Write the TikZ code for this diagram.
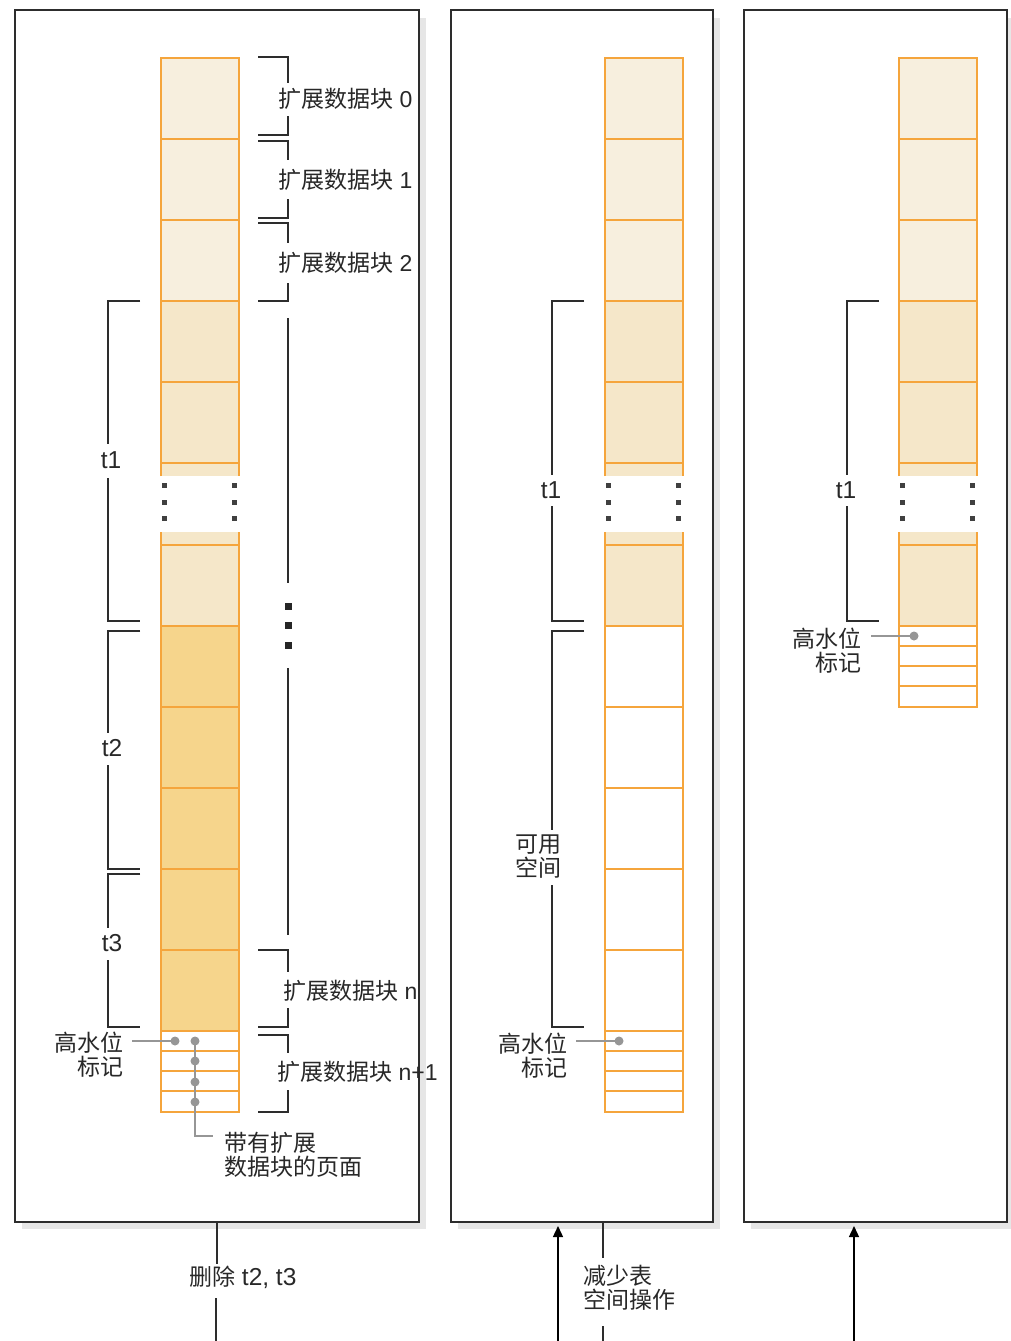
\documentclass[tikz,border=0pt]{standalone}
\usepackage{fontspec}
\setmainfont{Liberation Sans}
\newfontfamily\cjk{Noto Sans CJK SC}
\usetikzlibrary{arrows.meta}
\definecolor{orgc}{RGB}{245,165,60}
\definecolor{cA}{RGB}{247,239,222}
\definecolor{cB}{RGB}{245,231,201}
\definecolor{cC}{RGB}{246,213,140}
\definecolor{shc}{RGB}{230,230,230}
\definecolor{dgc}{RGB}{150,150,150}
\definecolor{lnc}{RGB}{45,45,45}
\definecolor{txc}{RGB}{40,40,40}
\begin{document}
\begin{tikzpicture}[x=1pt,y=-1pt,
  panel/.style={draw=lnc,line width=1.8pt,fill=white,inner sep=0pt,anchor=north west},
  org/.style={draw=orgc,line width=1.9pt},
  brk/.style={draw=lnc,line width=1.5pt},
  lbl/.style={font=\fontsize{23}{24}\selectfont,text=txc,inner sep=0pt},
  tl/.style={font=\fontsize{24.5}{26}\selectfont,text=txc,inner sep=0pt},
  gl/.style={draw=dgc,line width=1.2pt},
  gdot/.style={circle,fill=dgc,inner sep=0pt,minimum size=9pt},
  sq/.style={fill=black!75,inner sep=0pt,minimum size=5pt},
  bsq/.style={fill=black!85,inner sep=0pt,minimum size=7pt},
  arr/.style={draw=black,line width=1.4pt,-{Triangle[length=11pt,width=10pt]}},
]
\useasboundingbox (0,0) rectangle (1010,1341);
% shadows
\fill[shc] (22,18) rectangle (426,1229);
\fill[shc] (458,18) rectangle (720,1229);
\fill[shc] (751,18) rectangle (1014,1229);
% panels
\node[panel,minimum width=404pt,minimum height=1212pt] (p1) at (14,9) {};
\node[panel,minimum width=262pt,minimum height=1212pt] (p2) at (450,9) {};
\node[panel,minimum width=263pt,minimum height=1212pt] (p3) at (743,9) {};
% columns, common upper part
\foreach \xo in {161,605,899}{
  \fill[cA] (\xo,58) rectangle ++(78,243);
  \fill[cB] (\xo,301) rectangle ++(78,175);
  \fill[cB] (\xo,532) rectangle ++(78,94);
  \foreach \yy in {139,220,301,382,463,545}{\draw[org] (\xo,\yy) -- ++(78,0);}
  \draw[org] (\xo,476) |- ++(78,-418) -- ++(0,418);
  \foreach \yy in {485,502,518}{
    \node[sq] at ([xshift=3pt]\xo,\yy) {};
    \node[sq] at ([xshift=73pt]\xo,\yy) {};
  }
}
% column 1 lower
\fill[cC] (161,626) rectangle ++(78,405);
\foreach \yy in {626,707,788,869,950,1031,1051,1071,1091}{\draw[org] (161,\yy) -- ++(78,0);}
\draw[org] (161,532) |- ++(78,580) -- ++(0,-580);
% column 2 lower
\foreach \yy in {626,707,788,869,950,1031,1051,1071,1091}{\draw[org] (605,\yy) -- ++(78,0);}
\draw[org] (605,532) |- ++(78,580) -- ++(0,-580);
% column 3 lower
\foreach \yy in {626,646,666,686}{\draw[org] (899,\yy) -- ++(78,0);}
\draw[org] (899,532) |- ++(78,175) -- ++(0,-175);

% right brackets panel 1
\draw[brk] (258,57) -| (288,83); \draw[brk] (288,116) |- (258,135);
\node[lbl,anchor=west] (e0) at (278,99) {{\cjk 扩展数据块} 0};
\draw[brk] (258,141) -| (288,160); \draw[brk] (288,199) |- (258,218);
\node[lbl,anchor=west] (e1) at (278,180) {{\cjk 扩展数据块} 1};
\draw[brk] (258,223) -| (288,243); \draw[brk] (288,283) |- (258,301);
\node[lbl,anchor=west] (e2) at (278,263) {{\cjk 扩展数据块} 2};
\draw[brk] (288,318) -- (288,583);
\node[bsq] (s1) at (288,606) {};
\node[bsq] (s2) at (288,625) {};
\node[bsq] (s3) at (288,645) {};
\draw[brk] (288,668) -- (288,935);
\draw[brk] (258,950) -| (288,972); \draw[brk] (288,1008) |- (258,1027);
\node[lbl,anchor=west] (en) at (283,991) {{\cjk 扩展数据块} n};
\draw[brk] (258,1035) -| (288,1053); \draw[brk] (288,1090) |- (258,1112);
\node[lbl,anchor=west] (en1) at (277,1072) {{\cjk 扩展数据块} n+1};

% left brackets panel 1
\draw[brk] (140,301) -| (108,444); \draw[brk] (108,478) |- (140,621);
\node[tl] (t1a) at (111,460) {t1};
\draw[brk] (140,631) -| (108,733); \draw[brk] (108,765) |- (140,869);
\node[tl] (t2a) at (112,748) {t2};
\draw[brk] (140,874) -| (108,928); \draw[brk] (108,960) |- (140,1027);
\node[tl] (t3a) at (112,943) {t3};

% panel 2 brackets
\draw[brk] (584,301) -| (552,475); \draw[brk] (552,506) |- (584,621);
\node[tl] (t1b) at (551,490) {t1};
\draw[brk] (584,631) -| (552,830); \draw[brk] (552,885) |- (584,1027);
\node[lbl,align=center] (av) at (538,857) {\cjk 可用\\\cjk 空间};

% panel 3 bracket
\draw[brk] (879,301) -| (847,475); \draw[brk] (847,506) |- (879,621);
\node[tl] (t1c) at (846,490) {t1};

% high water marks
\node[gdot] (d1) at (175,1041) {};
\draw[gl] (d1.center) -- (132,1041);
\node[lbl,anchor=east,align=right] (hw1) at (124,1055) {\cjk 高水位\\\cjk 标记};
\draw[gl] (195,1041) |- (213,1136);
\foreach \yy/\nm in {1041/pa,1061/pb,1082/pc,1102/pd}{\node[gdot] (\nm) at (195,\yy) {};}
\node[lbl,anchor=west,align=left] (pg) at (224,1155) {\cjk 带有扩展\\\cjk 数据块的页面};

\node[gdot] (d2) at (619,1041) {};
\draw[gl] (d2.center) -- (576,1041);
\node[lbl,anchor=east,align=right] (hw2) at (568,1056) {\cjk 高水位\\\cjk 标记};

\node[gdot] (d3) at (914,636) {};
\draw[gl] (d3.center) -- (871,636);
\node[lbl,anchor=east,align=right] (hw3) at (862,651) {\cjk 高水位\\\cjk 标记};

% bottom connectors
\draw[brk] (p1.south) -- ++(0,41);
\node[lbl] (del) at (243,1277) {{\cjk 删除} {\fontsize{24.5}{26}\selectfont t2, t3}};
\draw[brk] (216,1298) -- (216,1341);
\coordinate (a2) at (558,1341);
\draw[arr] (a2) -- (558,1226);
\draw[brk] (603,1221) -- (603,1258);
\node[lbl,anchor=west,align=left] (red) at (583,1288) {\cjk 减少表\\\cjk 空间操作};
\draw[brk] (603,1326) -- (603,1341);
\coordinate (a3) at (854,1341);
\draw[arr] (a3) -- (854,1226);
\end{tikzpicture}
\end{document}
